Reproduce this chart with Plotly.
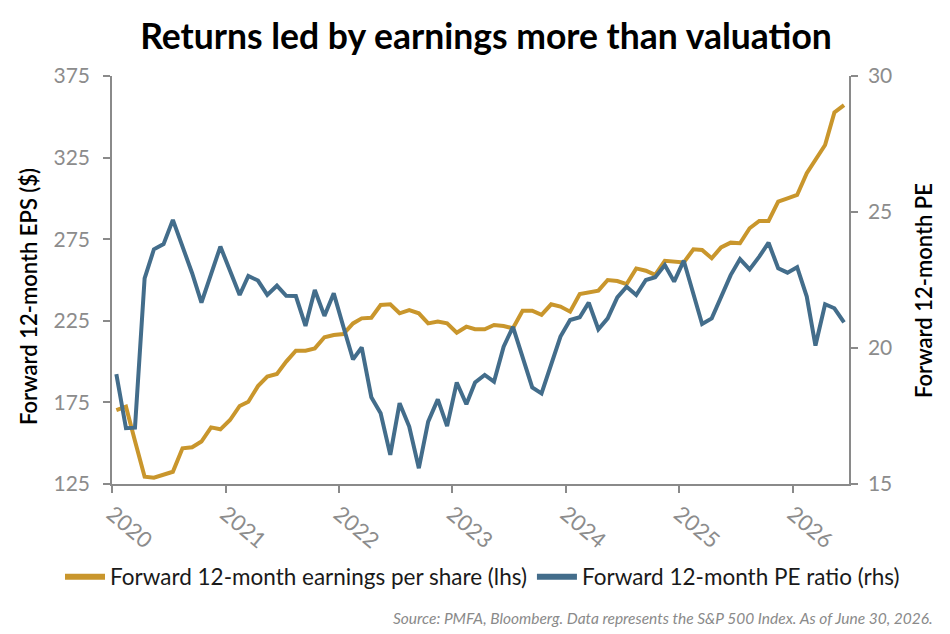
import plotly.graph_objects as go

# ---- data ----
dates = [f"{y}-{m:02d}-15" for y in range(2020, 2027) for m in range(1, 13)][:78]

eps = [170.3, 172.4, 151.3, 129.5, 128.9, 130.5, 132.5, 146.9, 147.5, 151.0,
       159.7, 158.5, 164.2, 172.8, 175.4, 185.0, 190.8, 192.4, 200.0, 206.7,
       206.7, 208.1, 214.9, 216.3, 216.9, 223.4, 226.5, 226.9, 234.7, 235.1,
       229.6, 231.6, 229.6, 223.4, 224.5, 223.4, 217.7, 221.4, 219.8, 219.8,
       222.4, 221.8, 220.4, 231.2, 231.2, 228.6, 235.1, 233.7, 230.6, 241.4,
       242.4, 243.5, 250.0, 249.4, 247.5, 257.1, 255.7, 253.1, 261.8, 261.6,
       260.8, 268.8, 268.4, 263.3, 270.0, 272.9, 272.5, 281.7, 286.2, 286.2,
       298.0, 300.0, 302.1, 315.4, 323.9, 332.7, 352.7, 357.2]

pe = [19.04, 17.05, 17.07, 22.56, 23.63, 23.82, 24.71, 23.73, 22.75, 21.67,
      22.68, 23.73, 22.84, 21.95, 22.65, 22.48, 21.95, 22.29, 21.92, 21.91,
      20.81, 22.13, 21.18, 22.01, 20.78, 19.58, 20.02, 18.19, 17.60, 16.07,
      17.97, 17.11, 15.58, 17.29, 18.11, 17.13, 18.73, 17.93, 18.73, 19.01,
      18.76, 20.05, 20.78, 19.68, 18.55, 18.33, 19.37, 20.42, 21.03, 21.13,
      21.67, 20.69, 21.09, 21.86, 22.25, 21.95, 22.50, 22.60, 23.05, 22.44,
      23.21, 22.01, 20.88, 21.09, 21.86, 22.68, 23.27, 22.89, 23.36, 23.87,
      22.93, 22.77, 22.97, 21.89, 20.09, 21.61, 21.46, 20.94]

year_ticks = ["2020-01-01", "2021-01-01", "2022-01-01", "2023-01-01",
              "2024-01-01", "2025-01-01", "2026-01-01"]
year_labels = ["2020", "2021", "2022", "2023", "2024", "2025", "2026"]
eps_ticks = [125, 175, 225, 275, 325, 375]
pe_ticks = [15, 20, 25, 30]

name_eps = "Forward 12-month earnings per share (lhs)"
name_pe = "Forward 12-month PE ratio (rhs)"

GOLD = "#C9962C"
BLUE = "#436D8B"
GREY = "#8A8A8A"
TICKGREY = "#8C8C8C"
FONT = "Lato"

fig = go.Figure()
fig.add_trace(go.Scatter(x=dates, y=eps, mode="lines", line=dict(color=GOLD, width=4),
                         showlegend=False, yaxis="y"))
fig.add_trace(go.Scatter(x=dates, y=pe, mode="lines", line=dict(color=BLUE, width=4),
                         showlegend=False, yaxis="y2"))
# legend entries
fig.add_trace(go.Scatter(x=[None], y=[None], mode="lines", name=name_eps,
                         line=dict(color=GOLD, width=6)))
fig.add_trace(go.Scatter(x=[None], y=[None], mode="lines", name=name_pe,
                         line=dict(color=BLUE, width=6), yaxis="y2"))

xr = ["2020-01-01", "2026-07-01"]
line_style = dict(showgrid=False, zeroline=False, linecolor=GREY, linewidth=1.5,
                  tickcolor=GREY, tickwidth=1.5, ticklen=7)

fig.update_layout(
    width=950, height=634,
    margin=dict(l=112, r=101, t=76, b=150, autoexpand=False),
    paper_bgcolor="white", plot_bgcolor="white",
    font=dict(family=FONT),
    title=dict(text="<b>Returns led by earnings more than valuation</b>",
               font=dict(family=FONT, size=35.5, color="black"),
               x=486 / 950, xref="container", xanchor="center",
               y=1 - 37 / 634, yref="container", yanchor="middle"),
    xaxis=dict(type="date", range=xr, tickvals=year_ticks, ticktext=year_labels,
               tickangle=40, ticks="outside", showline=True,
               tickfont=dict(family=FONT, size=22, color=TICKGREY), **line_style),
    xaxis2=dict(type="date", range=xr, tickvals=year_ticks, overlaying="x",
                anchor="y", ticks="inside", showticklabels=False, showline=False,
                **line_style),
    yaxis=dict(range=[125, 375], tickvals=eps_ticks, ticks="outside", showline=True,
               ticklabelstandoff=9, tickfont=dict(family=FONT, size=21, color=TICKGREY),
               **line_style),
    yaxis2=dict(range=[15, 30], tickvals=pe_ticks, ticks="outside", showline=True,
                overlaying="y", side="right", anchor="x", ticklabelstandoff=6,
                tickfont=dict(family=FONT, size=21, color=TICKGREY), **line_style),
    yaxis3=dict(range=[125, 375], tickvals=eps_ticks, overlaying="y", side="left",
                anchor="x", ticks="inside", showticklabels=False, showline=False,
                **line_style),
    yaxis4=dict(range=[15, 30], tickvals=pe_ticks, overlaying="y", side="right",
                anchor="x", ticks="inside", showticklabels=False, showline=False,
                **line_style),
    legend=dict(orientation="h", xref="paper", x=(60 - 112) / 737, xanchor="left",
                yref="paper", y=(484 - 577) / 408, yanchor="middle",
                font=dict(family=FONT, size=22.5, color="#1a1a1a"),
                itemwidth=40, tracegroupgap=0, bgcolor="rgba(0,0,0,0)"),
    annotations=[
        dict(text="Forward 12-month EPS ($)", textangle=-90, xref="paper", yref="paper",
             x=(28 - 112) / 737, y=(484 - 297) / 408, xanchor="center", yanchor="middle",
             showarrow=False, font=dict(family=FONT, size=22, color="black", weight=600)),
        dict(text="Forward 12-month PE", textangle=-90, xref="paper", yref="paper",
             x=(923 - 112) / 737, y=(484 - 291) / 408, xanchor="center", yanchor="middle",
             showarrow=False, font=dict(family=FONT, size=22, color="black", weight=600)),
        dict(text="<i>Source: PMFA, Bloomberg. Data represents the S&P 500 Index. As of June 30, 2026.</i>",
             xref="paper", yref="paper", x=(935 - 112) / 737, y=(484 - 618) / 408,
             xanchor="right", yanchor="middle", showarrow=False,
             font=dict(family=FONT, size=15.5, color="#8A8A8A")),
    ],
)

fig.write_html("out.html")
